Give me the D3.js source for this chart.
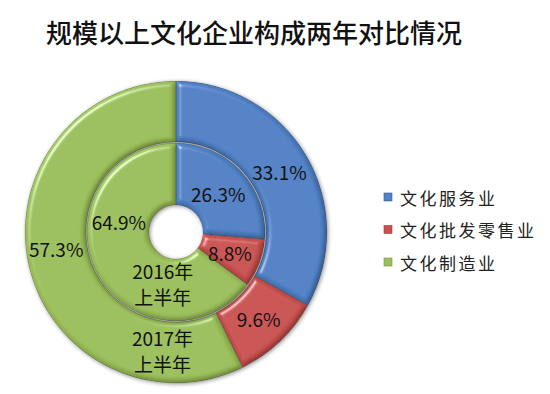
<!DOCTYPE html>
<html>
<head>
<meta charset="utf-8">
<script src="https://cdn.jsdelivr.net/npm/d3@7"></script>
<style>
  body { margin: 0; background: #fff; }
  svg text { font-family: "Noto Sans CJK SC", sans-serif; }
</style>
</head>
<body>
<div id="chart"></div>
<script>
const categories = ['文化服务业', '文化批发零售业', '文化制造业'];
const values2016 = [26.3, 8.8, 64.9];
const values2017 = [33.1, 9.6, 57.3];
const seriesNames = ['2016年|上半年', '2017年|上半年'];
const colors = ['#4F81C6', '#C9504E', '#9BBF59'];

const width = 550, height = 394;
const cx = 176, cy = 232;

const svg = d3.select('#chart').append('svg')
  .attr('width', width)
  .attr('height', height);

// bevel filter (rough copy of the office bevel look)
const defs = svg.append('defs');
const bevel = defs.append('filter').attr('id', 'bevel')
  .attr('x', '-10%').attr('y', '-10%').attr('width', '120%').attr('height', '120%');
bevel.append('feGaussianBlur').attr('in', 'SourceAlpha').attr('stdDeviation', 2.5).attr('result', 'blur');
const spec = bevel.append('feSpecularLighting')
  .attr('in', 'blur').attr('surfaceScale', 5).attr('specularConstant', 0.9)
  .attr('specularExponent', 28).attr('lighting-color', '#ffffff').attr('result', 'spec');
spec.append('feDistantLight').attr('azimuth', 225).attr('elevation', 35);
bevel.append('feComposite').attr('in', 'spec').attr('in2', 'SourceAlpha').attr('operator', 'in').attr('result', 'specOut');
// dark rim on the far side
const dif = bevel.append('feDiffuseLighting')
  .attr('in', 'blur').attr('surfaceScale', 5).attr('diffuseConstant', 1)
  .attr('lighting-color', '#ffffff').attr('result', 'dif');
dif.append('feDistantLight').attr('azimuth', 225).attr('elevation', 50);
bevel.append('feComposite').attr('in', 'SourceGraphic').attr('in2', 'dif')
  .attr('operator', 'arithmetic').attr('k1', 0.55).attr('k2', 0.55).attr('k3', 0).attr('k4', 0).attr('result', 'shaded');
bevel.append('feComposite').attr('in', 'shaded').attr('in2', 'specOut')
  .attr('operator', 'arithmetic').attr('k1', 0).attr('k2', 1).attr('k3', 0.6).attr('k4', 0).attr('result', 'lit');
bevel.append('feComposite').attr('in', 'lit').attr('in2', 'SourceAlpha').attr('operator', 'in');

const shadow = defs.append('filter').attr('id', 'shadow')
  .attr('x', '-20%').attr('y', '-20%').attr('width', '140%').attr('height', '140%');
shadow.append('feGaussianBlur').attr('in', 'SourceAlpha').attr('stdDeviation', 2).attr('result', 'b');
shadow.append('feOffset').attr('in', 'b').attr('dx', 1).attr('dy', 1).attr('result', 'o');
shadow.append('feComponentTransfer').attr('in', 'o').attr('result', 'o2')
  .append('feFuncA').attr('type', 'linear').attr('slope', 0.45);
const sm = shadow.append('feMerge');
sm.append('feMergeNode').attr('in', 'o2');
sm.append('feMergeNode').attr('in', 'SourceGraphic');

// title
svg.append('text')
  .attr('x', 254).attr('y', 31)
  .attr('text-anchor', 'middle')
  .attr('dominant-baseline', 'central')
  .style('font-size', '26px')
  .style('font-weight', 500)
  .style('fill', '#111')
  .text('规模以上文化企业构成两年对比情况');

const pie = d3.pie().sort(null).value(d => d);
const color = d3.scaleOrdinal().domain(categories).range(colors);

const rings = [
  { values: values2016, inner: 26, outer: 89 },
  { values: values2017, inner: 89, outer: 151 }
];

const g = svg.append('g').attr('transform', `translate(${cx},${cy})`);

rings.slice().reverse().forEach(ring => {
  const arc = d3.arc().innerRadius(ring.inner + 1).outerRadius(ring.outer);
  g.append('g').attr('filter', 'url(#shadow)')
    .selectAll('path')
    .data(pie(ring.values))
    .join('path')
    .attr('d', arc)
    .attr('fill', (d, i) => color(categories[i]))
    .attr('stroke', 'rgba(30,30,30,0.3)')
    .attr('stroke-width', 1)
    .attr('filter', 'url(#bevel)');
});

// value labels
const labelFont = '19px';
function place(ring, arcsData, i, angleOverride, rOverride) {
  const d = arcsData[i];
  const r = rOverride || (ring.inner + ring.outer) / 2;
  const a = angleOverride !== undefined ? angleOverride * Math.PI / 180 : (d.startAngle + d.endAngle) / 2;
  return [Math.sin(a) * r, -Math.cos(a) * r];
}

const labelAdjust = [
  [null, null, { a: 280, r: 58 }],
  [null, null, { a: 262, r: 121 }]
];

rings.forEach((ring, ri) => {
  const arcsData = pie(ring.values);
  arcsData.forEach((d, i) => {
    const adj = labelAdjust[ri][i];
    const p = adj ? place(ring, arcsData, i, adj.a, adj.r) : place(ring, arcsData, i);
    g.append('text')
      .attr('x', p[0]).attr('y', p[1])
      .attr('text-anchor', 'middle')
      .attr('dominant-baseline', 'central')
      .style('font-size', labelFont)
      .style('fill', '#111')
      .text(d3.format('.1f')(d.data) + '%');
  });
});

// series names inside the green part
const nameSpots = [{ a: 194.5, r: 53 }, { a: 186.5, r: 119 }];
seriesNames.forEach((name, i) => {
  const a = nameSpots[i].a * Math.PI / 180, r = nameSpots[i].r;
  const x = Math.sin(a) * r, y = -Math.cos(a) * r;
  const t = g.append('text')
    .attr('text-anchor', 'middle')
    .style('font-size', labelFont)
    .style('fill', '#111');
  name.split('|').forEach((line, k) => {
    t.append('tspan')
      .attr('x', x)
      .attr('y', y + (k === 0 ? -13 : 13))
      .attr('dominant-baseline', 'central')
      .text(line);
  });
});

// legend
const legend = svg.append('g').attr('transform', 'translate(384,197)');
const item = legend.selectAll('g')
  .data(categories)
  .join('g')
  .attr('transform', (d, i) => `translate(0,${i * 32.5})`);
item.append('rect')
  .attr('x', 0).attr('y', -4)
  .attr('width', 8).attr('height', 8)
  .attr('fill', d => color(d))
  .attr('stroke', d => d3.color(color(d)).darker(0.8))
  .attr('stroke-width', 0.6);
item.append('text')
  .attr('x', 16).attr('y', 0)
  .attr('dominant-baseline', 'central')
  .style('font-size', '17px')
  .style('letter-spacing', '2.5px')
  .style('fill', '#222')
  .text(d => d);
</script>
</body>
</html>
